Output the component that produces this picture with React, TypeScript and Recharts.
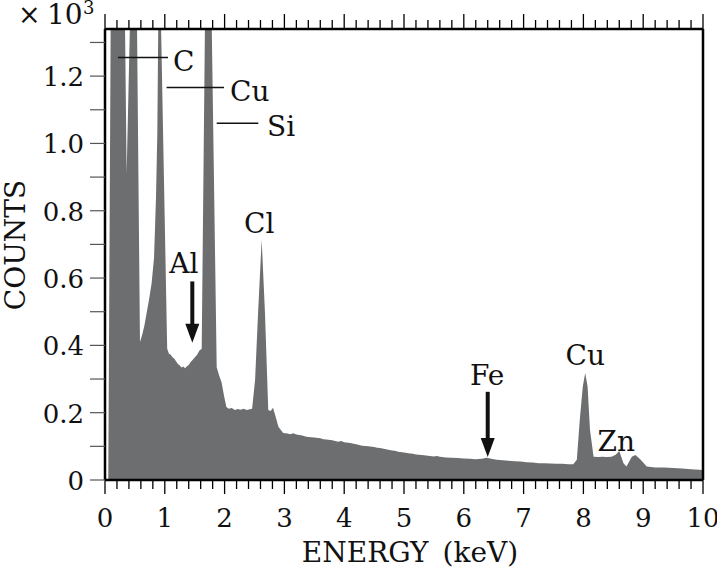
import { ComposedChart, Area, XAxis, YAxis, ReferenceLine, ReferenceDot } from "recharts";

// EDS spectrum, counts in units of 10^3 (off-scale peaks are cut at the frame)
const energy = [
  0, 0.055, 0.095, 0.334, 0.362, 0.418, 0.535, 0.585, 0.62, 0.66, 0.7, 0.74, 0.78, 0.82, 0.853, 0.875, 0.891, 0.936,
  1.04, 1.07, 1.1, 1.13, 1.16, 1.19, 1.22, 1.25, 1.28, 1.31, 1.34, 1.37, 1.4, 1.43, 1.46, 1.5, 1.54, 1.58, 1.617,
  1.672, 1.784, 1.868, 1.91, 1.95, 1.99, 2.03, 2.07, 2.12, 2.17, 2.22, 2.27, 2.32, 2.37, 2.42, 2.46, 2.51, 2.56,
  2.62, 2.675, 2.73, 2.77, 2.81, 2.85, 2.9, 2.98, 3.05, 3.1, 3.15, 3.2, 3.3, 3.35, 3.4, 3.5, 3.6, 3.65, 3.7, 3.8,
  3.9, 3.95, 4.0, 4.1, 4.2, 4.25, 4.3, 4.4, 4.5, 4.55, 4.6, 4.7, 4.8, 4.85, 4.9, 5.0, 5.1, 5.15, 5.2, 5.3, 5.4,
  5.5, 5.55, 5.6, 5.7, 5.8, 5.9, 6.0, 6.1, 6.2, 6.3, 6.38, 6.46, 6.55, 6.65, 6.75, 6.85, 6.95, 7.05, 7.15, 7.25,
  7.35, 7.45, 7.55, 7.65, 7.75, 7.83, 7.89, 7.94, 7.99, 8.03, 8.07, 8.11, 8.17, 8.25, 8.32, 8.39, 8.47, 8.54, 8.6,
  8.67, 8.72, 8.81, 8.87, 8.95, 9.06, 9.2, 9.35, 9.5, 9.65, 9.8, 10,
];
const counts = [
  0, 0, 1.36, 1.36, 0.91, 1.36, 1.36, 0.41, 0.43, 0.46, 0.5, 0.54, 0.585, 0.66, 0.84, 1.03, 1.36, 1.36,
  0.39, 0.375, 0.372, 0.365, 0.36, 0.352, 0.345, 0.34, 0.334, 0.337, 0.332, 0.338, 0.342, 0.35, 0.356, 0.364, 0.372, 0.385, 0.39,
  1.36, 1.36, 0.335, 0.31, 0.29, 0.25, 0.217, 0.212, 0.214, 0.208, 0.211, 0.209, 0.212, 0.208, 0.21, 0.212, 0.298, 0.497,
  0.714, 0.497, 0.208, 0.205, 0.215, 0.19, 0.158, 0.14, 0.138, 0.136, 0.139, 0.135, 0.132, 0.129, 0.128, 0.126, 0.124, 0.121, 0.12, 0.118,
  0.114, 0.116, 0.112, 0.11, 0.106, 0.104, 0.102, 0.1, 0.098, 0.096, 0.095, 0.091, 0.088, 0.087, 0.084, 0.082, 0.079, 0.078, 0.076, 0.074, 0.072,
  0.07, 0.071, 0.069, 0.067, 0.066, 0.065, 0.064, 0.063, 0.062, 0.063, 0.066, 0.063, 0.06, 0.059, 0.057, 0.056, 0.055, 0.053, 0.052, 0.05,
  0.05, 0.049, 0.048, 0.048, 0.047, 0.047, 0.06, 0.18, 0.278, 0.318, 0.278, 0.149, 0.069, 0.068, 0.069, 0.068, 0.069, 0.075, 0.086,
  0.05, 0.04, 0.069, 0.074, 0.062, 0.04, 0.037, 0.037, 0.036, 0.034, 0.032, 0.03,
];

const xTicks = [
  0, 0.2, 0.4, 0.6, 0.8, 1, 1.2, 1.4, 1.6, 1.8, 2, 2.2, 2.4, 2.6, 2.8, 3, 3.2, 3.4, 3.6, 3.8, 4, 4.2, 4.4, 4.6, 4.8,
  5, 5.2, 5.4, 5.6, 5.8, 6, 6.2, 6.4, 6.6, 6.8, 7, 7.2, 7.4, 7.6, 7.8, 8, 8.2, 8.4, 8.6, 8.8, 9, 9.2, 9.4, 9.6, 9.8, 10,
];
const yTicks = [0, 0.1, 0.2, 0.3, 0.4, 0.5, 0.6, 0.7, 0.8, 0.9, 1.0, 1.1, 1.2, 1.3];

// element labels: position in (keV, counts) of the text baseline
const labelText = ["C", "Cu", "Si", "Cl", "Al", "Fe", "Cu", "Zn"];
const labelX = [1.137, 2.09, 2.71, 2.58, 1.32, 6.39, 8.03, 8.55];
const labelY = [1.214, 1.125, 1.021, 0.735, 0.616, 0.283, 0.342, 0.086];
const labelAnchor = ["start", "start", "start", "middle", "middle", "middle", "middle", "middle"];

// leader lines for the off-scale peaks
const leaderFrom = [0.217, 1.03, 1.868];
const leaderTo = [1.053, 1.99, 2.564];
const leaderY = [1.255, 1.166, 1.06];

// arrows for Al and Fe
const arrowX = [1.46, 6.4];
const arrowTop = [0.59, 0.262];
const arrowTip = [0.408, 0.068];

const data = energy.map((e, i) => ({ e, c: counts[i] }));

const FONT = "DejaVu Serif";
const isMajor = (v: number) => Math.abs(v - Math.round(v)) < 1e-6;

const BottomTick = (p: any) => {
  const v = p.payload.value;
  const major = isMajor(v);
  return (
    <g>
      <line x1={p.x} x2={p.x} y1={p.y} y2={p.y + (major ? 14 : 9)} stroke="#000" strokeWidth={1.3} />
      {major && (
        <text x={p.x} y={p.y + 47} textAnchor="middle" fontSize={26} fontFamily={FONT} fill="#111">
          {Math.round(v)}
        </text>
      )}
    </g>
  );
};

const TopTick = (p: any) => {
  const major = isMajor(p.payload.value);
  return <line x1={p.x} x2={p.x} y1={p.y} y2={p.y - (major ? 15 : 9)} stroke="#000" strokeWidth={1.3} />;
};

const LeftTick = (p: any) => {
  const v = p.payload.value;
  const labelled = Math.abs(v * 5 - Math.round(v * 5)) < 1e-6;
  return (
    <g>
      <line x1={p.x} x2={p.x - 15} y1={p.y} y2={p.y} stroke="#555" strokeWidth={1.2} />
      {labelled && (
        <text x={p.x - 21} y={p.y + 10} textAnchor="end" fontSize={26} fontFamily={FONT} fill="#111">
          {v === 0 ? "0" : v.toFixed(1)}
        </text>
      )}
    </g>
  );
};

const RightTick = (p: any) => (
  <line x1={p.x} x2={p.x + 14} y1={p.y} y2={p.y} stroke="#555" strokeWidth={1.2} />
);

const Arrow = (p: any) => (
  <g>
    <line x1={p.x1} x2={p.x2} y1={p.y1} y2={p.y2 - 16} stroke="#111" strokeWidth={4} />
    <polygon points={`${p.x2 - 7},${p.y2 - 19} ${p.x2 + 7},${p.y2 - 19} ${p.x2},${p.y2}`} fill="#111" />
  </g>
);

export default function App() {
  return (
    <div style={{ position: "absolute", left: 0, top: 0, width: 717, height: 570, background: "#fff" }}>
      <ComposedChart width={717} height={570} data={data} margin={{ top: 0, right: 0, bottom: 0, left: 0 }}>
        <XAxis
          dataKey="e"
          type="number"
          domain={[0, 10]}
          ticks={xTicks}
          interval={0}
          allowDataOverflow
          height={90}
          tickSize={0}
          tickMargin={0}
          tickLine={false}
          axisLine={{ stroke: "#000", strokeWidth: 2.5 }}
          tick={BottomTick}
        />
        <XAxis
          xAxisId="top"
          orientation="top"
          dataKey="e"
          type="number"
          domain={[0, 10]}
          ticks={xTicks}
          interval={0}
          height={29}
          tickSize={0}
          tickMargin={0}
          tickLine={false}
          axisLine={{ stroke: "#000", strokeWidth: 2.5 }}
          tick={TopTick}
        />
        <YAxis
          type="number"
          domain={[0, 1.34]}
          ticks={yTicks}
          interval={0}
          allowDataOverflow
          width={105}
          tickSize={0}
          tickMargin={0}
          tickLine={false}
          axisLine={{ stroke: "#000", strokeWidth: 2.5 }}
          tick={LeftTick}
        />
        <YAxis
          yAxisId="right"
          orientation="right"
          type="number"
          domain={[0, 1.34]}
          ticks={yTicks}
          interval={0}
          width={14}
          tickSize={0}
          tickMargin={0}
          tickLine={false}
          axisLine={{ stroke: "#000", strokeWidth: 2.5 }}
          tick={RightTick}
        />
        <Area
          type="linear"
          dataKey="c"
          stroke="none"
          fill="#6d6e70"
          fillOpacity={1}
          isAnimationActive={false}
        />
        {leaderFrom.map((x0, i) => (
          <ReferenceLine
            key={`ld${i}`}
            segment={[
              { x: x0, y: leaderY[i] },
              { x: leaderTo[i], y: leaderY[i] },
            ]}
            stroke="#111"
            strokeWidth={1.5}
            ifOverflow="visible"
          />
        ))}
        {arrowX.map((x0, i) => (
          <ReferenceLine
            key={`ar${i}`}
            segment={[
              { x: x0, y: arrowTop[i] },
              { x: x0, y: arrowTip[i] },
            ]}
            ifOverflow="visible"
            shape={Arrow}
          />
        ))}
        {labelText.map((t, i) => (
          <ReferenceDot
            key={`lb${i}`}
            x={labelX[i]}
            y={labelY[i]}
            r={0}
            ifOverflow="visible"
            shape={(p: any) => (
              <text x={p.cx} y={p.cy} textAnchor={labelAnchor[i] as any} fontSize={28} fontFamily={FONT} fill="#111">
                {t}
              </text>
            )}
          />
        ))}
      </ComposedChart>
      <svg width={717} height={570} style={{ position: "absolute", left: 0, top: 0, pointerEvents: "none" }}>
        <text x={18} y={24} fontSize={27} fontFamily={FONT} fill="#111">
          ×
        </text>
        <text x={47} y={24} fontSize={28} fontFamily={FONT} fill="#111">
          10
        </text>
        <text x={83} y={14} fontSize={18} fontFamily={FONT} fill="#111">
          3
        </text>
        <text
          x={0}
          y={0}
          transform="translate(25,245) rotate(-90)"
          textAnchor="middle"
          fontSize={28}
          fontFamily={FONT}
          fill="#111"
        >
          COUNTS
        </text>
        <text x={410} y={562} textAnchor="middle" fontSize={28} fontFamily={FONT} fill="#111">
          {"ENERGY\u2002(keV)"}
        </text>
      </svg>
    </div>
  );
}
